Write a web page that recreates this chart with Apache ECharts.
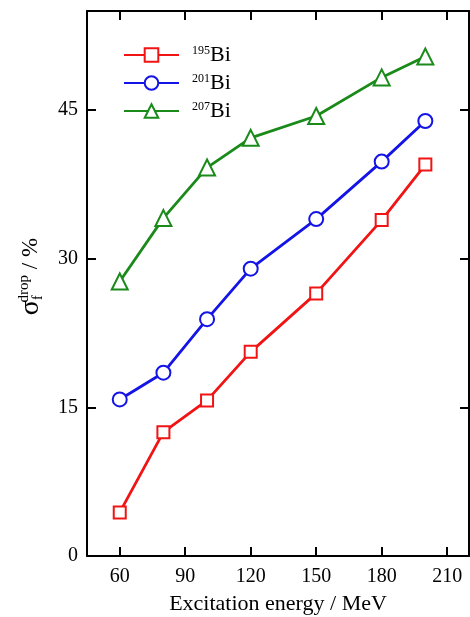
<!DOCTYPE html>
<html><head><meta charset="utf-8">
<script src="https://cdn.jsdelivr.net/npm/echarts@6/dist/echarts.min.js"></script>
<style>html,body{margin:0;padding:0;background:#fff}#c{width:470px;height:617px}</style>
</head><body><div id="c"></div>
<script>
const energies = [60, 80, 100, 120, 150, 180, 200];
const bi195 = [4.4, 12.5, 15.7, 20.6, 26.5, 33.9, 39.5];
const bi201 = [15.8, 18.5, 23.9, 29.0, 34.0, 39.8, 43.9];
const bi207 = [27.7, 34.1, 39.2, 42.2, 44.4, 48.3, 50.4];
const xTicks = [60, 90, 120, 150, 180, 210];
const yTicks = [0, 15, 30, 45];
const seriesNames = ['195', '201', '207'];

const FONT = '"Liberation Serif", "DejaVu Serif", serif';
const chart = echarts.init(document.getElementById('c'), null, {renderer: 'canvas'});
const pair = (ys) => energies.map((x, i) => [x, ys[i]]);
const axisLine = {show: true, onZero: false, lineStyle: {color: '#000', width: 2}};
const tick = (vals) => ({show: true, inside: true, length: 9, customValues: vals, lineStyle: {color: '#000', width: 2}});

function mk(name, data, color, symbol, size) {
  return {
    name: name, type: 'line', data: pair(data),
    symbol: symbol, symbolSize: size,
    lineStyle: {color: color, width: 2.8},
    itemStyle: {color: color, borderColor: color, borderWidth: 1.5},
    emphasis: {disabled: true}
  };
}

chart.setOption({
  animation: false,
  grid: {left: 87, right: 1, top: 11, bottom: 61, containLabel: false, outerBoundsMode: 'none'},
  legend: {
    orient: 'vertical', left: 118, top: 39,
    itemWidth: 55, itemHeight: 17, itemGap: 6,
    data: seriesNames,
    formatter: (n) => '{sup|' + n + '}{b|Bi}',
    textStyle: {
      fontFamily: FONT, color: '#000',
      rich: {
        sup: {fontFamily: FONT, fontSize: 12, lineHeight: 12, color: '#000', verticalAlign: 'top', padding: [0, 0, 0, 8]},
        b: {fontFamily: FONT, fontSize: 22, lineHeight: 20, color: '#000'}
      }
    }
  },
  xAxis: [{
    type: 'value', min: 45, max: 220, position: 'bottom',
    axisLine: axisLine, axisTick: tick(xTicks), splitLine: {show: false},
    axisLabel: {customValues: xTicks, margin: 11, fontFamily: FONT, fontSize: 20, color: '#000'},
    name: 'Excitation energy / MeV', nameLocation: 'middle', nameGap: 37,
    nameTextStyle: {fontFamily: FONT, fontSize: 22, color: '#000'}
  }, {
    type: 'value', min: 45, max: 220, position: 'top',
    axisLine: axisLine, axisTick: tick(xTicks), splitLine: {show: false},
    axisLabel: {show: false}
  }],
  yAxis: [{
    type: 'value', min: 0, max: 55, position: 'left',
    axisLine: axisLine, axisTick: tick(yTicks), splitLine: {show: false},
    axisLabel: {customValues: yTicks, margin: 9, fontFamily: FONT, fontSize: 20, color: '#000'},
    name: '{s|σ}{sub|f}{sup|drop}{n| / %}', nameLocation: 'middle', nameGap: 42, nameRotate: 90,
    nameTextStyle: {
      fontFamily: FONT, color: '#000',
      rich: {
        s: {fontFamily: FONT, fontSize: 28, color: '#000', padding: [0, 0, 0, 14]},
        sub: {fontFamily: FONT, fontSize: 14, color: '#000', verticalAlign: 'bottom', padding: [11, 0, 0, 0]},
        sup: {fontFamily: FONT, fontSize: 15, color: '#000', verticalAlign: 'top', padding: [0, 0, 13, -7]},
        n: {fontFamily: FONT, fontSize: 23, color: '#000'}
      }
    }
  }, {
    type: 'value', min: 0, max: 55, position: 'right',
    axisLine: axisLine, axisTick: tick(yTicks), splitLine: {show: false},
    axisLabel: {show: false}
  }],
  series: [
    mk('195', bi195, '#f01414', 'emptyRect', 12),
    mk('201', bi201, '#1414e6', 'emptyCircle', 14),
    mk('207', bi207, '#1a8a1a', 'emptyTriangle', 16)
  ]
});
</script></body></html>
